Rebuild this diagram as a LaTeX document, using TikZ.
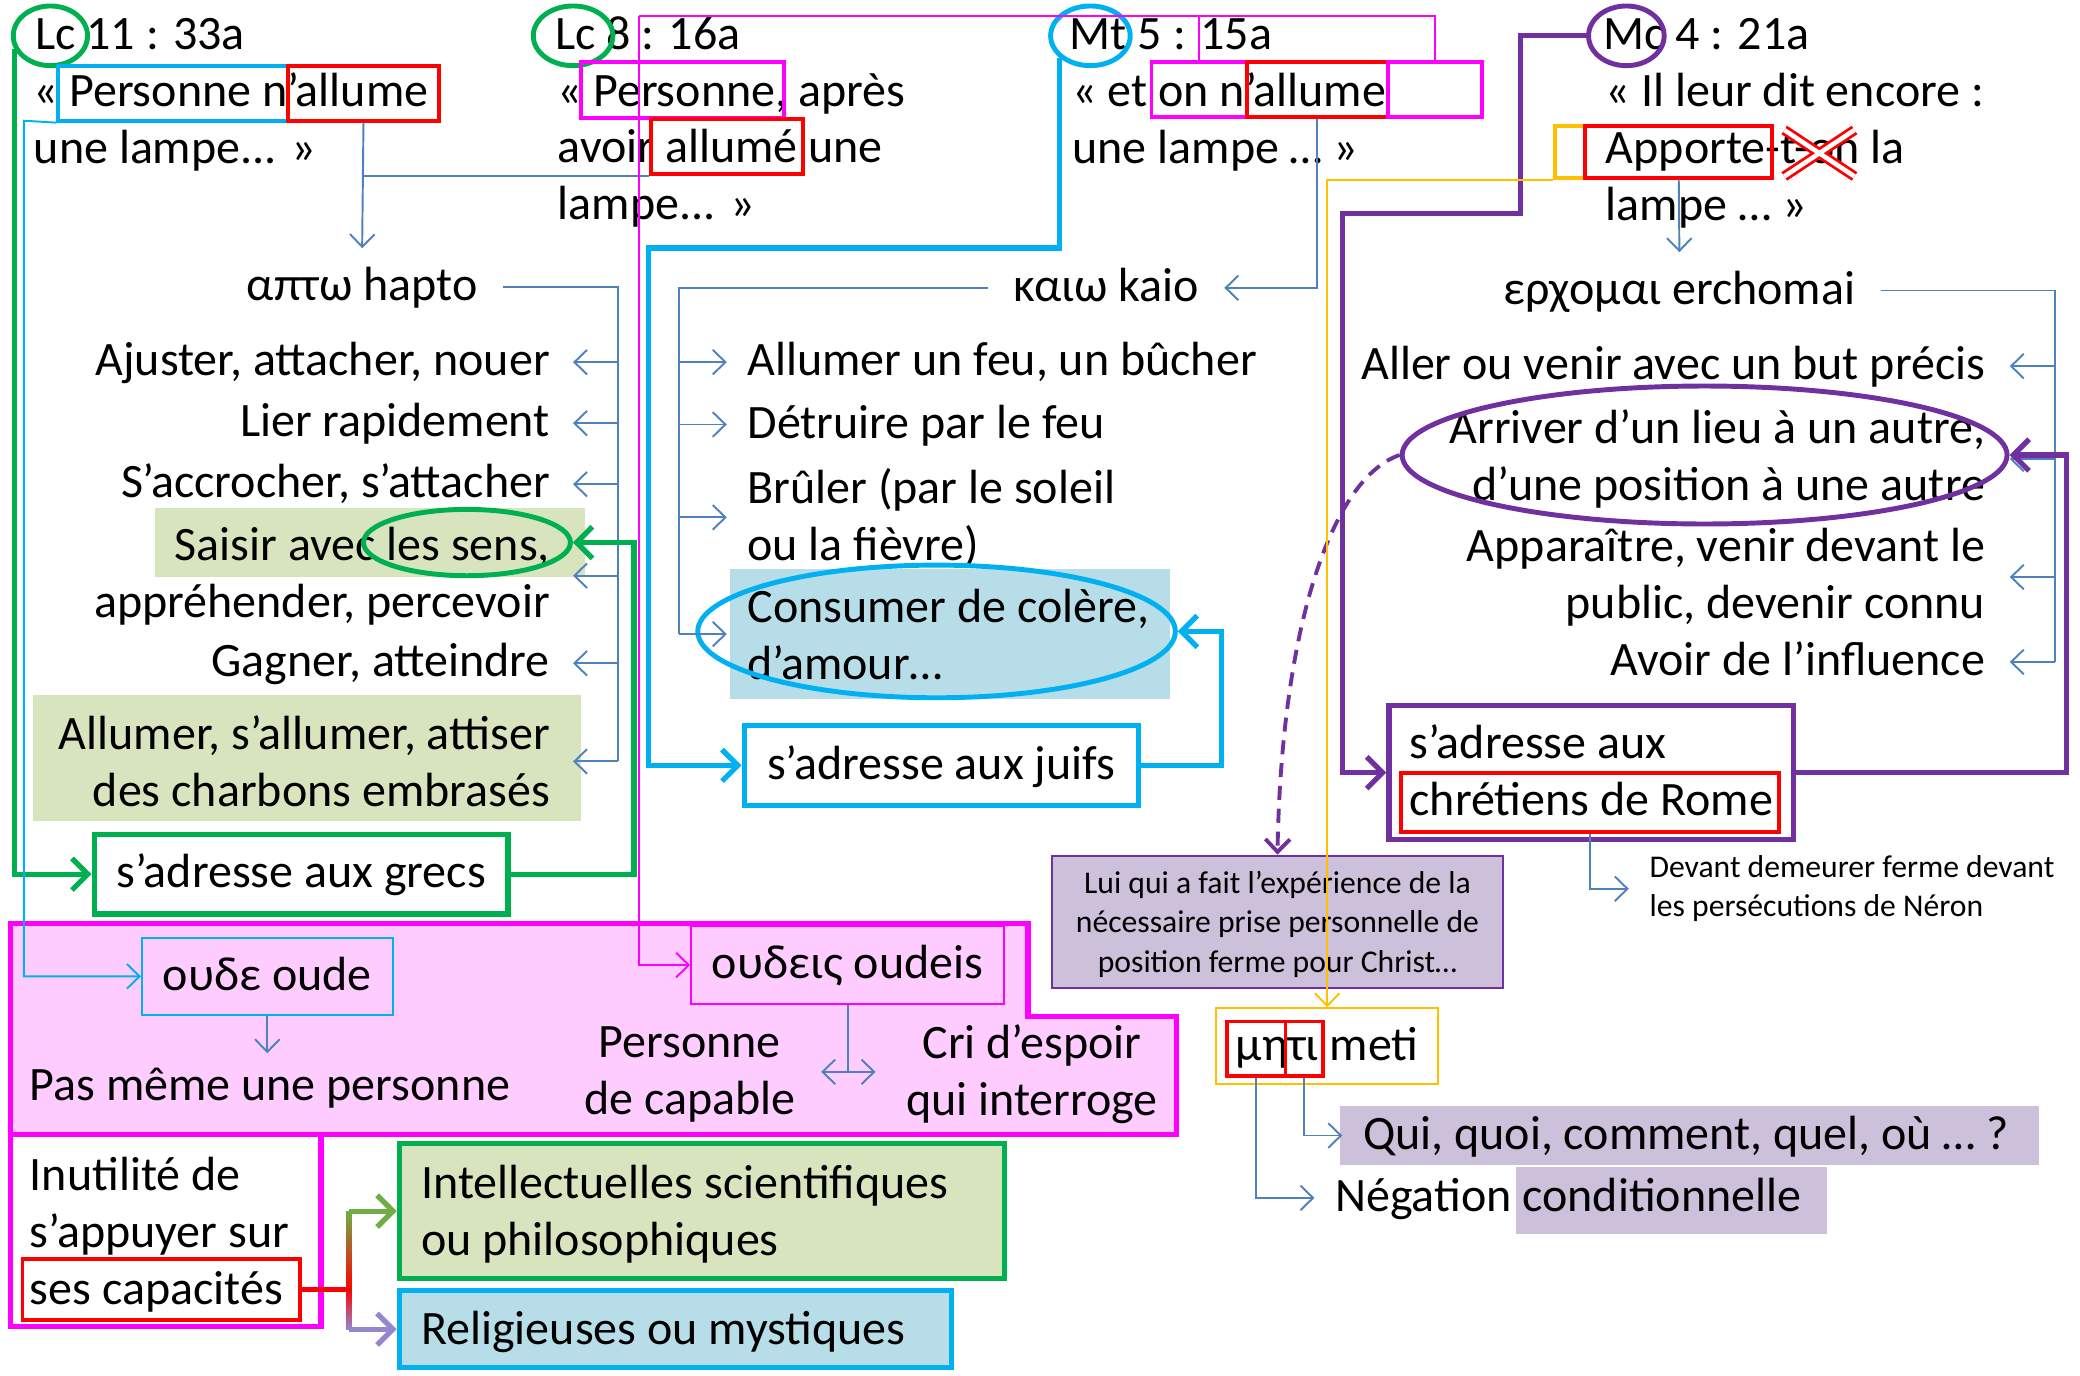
\documentclass[tikz,border=0pt]{standalone}
\usepackage{fontspec}
\setmainfont{Carlito}
\usetikzlibrary{positioning,calc,arrows.meta,shapes.geometric,fit}
\definecolor{grn}{RGB}{0,176,80}
\definecolor{cyn}{RGB}{0,176,240}
\definecolor{mag}{RGB}{255,0,255}
\definecolor{prp}{RGB}{112,48,160}
\definecolor{ylw}{RGB}{255,192,0}
\definecolor{lnBlue}{RGB}{79,129,189}
\definecolor{pinkFill}{RGB}{255,204,255}
\definecolor{greenFill}{RGB}{215,228,189}
\definecolor{blueFill}{RGB}{183,222,232}
\definecolor{purpleFill}{RGB}{204,192,218}
\definecolor{gradGreen}{RGB}{112,173,71}
\definecolor{gradPurple}{RGB}{150,135,205}
\newcommand{\upx}{0.013265cm}
\newcommand{\mainsize}{\fontsize{13.65pt}{16.2pt}\selectfont}
\newcommand{\smallsize}{\fontsize{9pt}{11.2pt}\selectfont}

\begin{document}
\begin{tikzpicture}[x=\upx, y=-\upx,
    txt/.style={inner sep=0, font=\mainsize},
    ln/.style={txt, text height=0.86em, text depth=0.08em},
    greek/.style={ln, inner xsep=7pt, inner ysep=6pt},
    hl/.style={draw, line width=1.1pt, inner sep=0},
    frame/.style={draw, line width=1.5pt, inner sep=0},
    ring/.style={draw, ellipse, inner sep=0, line width=1.4pt},
    fatln/.style={line width=1.5pt},
    thinln/.style={line width=0.55pt},
    tip/.style={-{Straight Barb[length=3.6pt,width=7pt]}},
    fattip/.style={-{Straight Barb[length=4.5pt,width=9pt]}},
    blueln/.style={draw=lnBlue, thinln},
    bluearr/.style={blueln, tip},
]
\useasboundingbox (0,0) rectangle (1568,1037);

% shaded backgrounds
\fill[greenFill] (117,383) rectangle (441,435);
\fill[greenFill] (25,524) rectangle (438,619);
\fill[blueFill] (550,429) rectangle (882,527);
\fill[purpleFill] (1010,834) rectangle (1537,878);
\fill[purpleFill] (1143,880) rectangle (1377,930);
\draw[mag, line width=1.5pt, fill=pinkFill] (8,696) -- (775,696) -- (775,766) -- (887,766) -- (887,855) -- (8,855) -- cycle;

% the four verses
\node[ln, anchor=west] (ref1) at (26,27) {Lc 11 : 33a};
\node[ln, anchor=west] (q1a) at (25,70) {« Personne n’allume};
\node[ln, anchor=west] (q1b) at (25,113) {une lampe... »};
\node[ring, draw=grn, minimum width=56*\upx, minimum height=45*\upx] (lc1) at (38,27) {};
\node[hl, draw=cyn, fit={(44,50) (217,91)}] (pers1) {};
\node[hl, draw=red, fit={(217,50) (331,91)}] (allume1) {};

\node[ln, anchor=west] (ref2) at (418,27) {Lc 8 : 16a};
\node[ln, anchor=west] (q2a) at (420,70) {« Personne, après};
\node[ln, anchor=west] (q2b) at (420,112) {avoir allumé une};
\node[ln, anchor=west] (q2c) at (420,155) {lampe... »};
\node[ring, draw=grn, minimum width=60*\upx, minimum height=45*\upx] (lc2) at (432,27) {};
\node[hl, draw=mag, fit={(438,47) (591,89)}] (pers2) {};
\node[hl, draw=red, fit={(491,90) (605,131)}] (allume2) {};

\node[ln, anchor=west] (ref3) at (806,27) {Mt 5 : 15a};
\node[ln, anchor=west] (q3a) at (808,70) {« et on n’allume};
\node[ln, anchor=west] (q3b) at (808,113) {une lampe … »};
\node[ring, draw=cyn, minimum width=60*\upx, minimum height=45*\upx] (mt) at (822,27) {};
\node[hl, draw=mag, fit={(868,47) (940,88)}] (onn) {};
\node[hl, draw=red, fit={(940,47) (1046,88)}] (allume3) {};
\node[hl, draw=mag, fit={(1046,47) (1117,88)}] (vide3) {};

\node[ln, anchor=west] (ref4) at (1208,27) {Mc 4 : 21a};
\node[ln, anchor=west] (q4a) at (1210,70) {« Il leur dit encore :};
\node[ln, anchor=west] (q4b) at (1210,113) {Apporte-t-on la};
\node[ln, anchor=west] (q4c) at (1210,156) {lampe … »};
\node[ring, draw=prp, minimum width=57*\upx, minimum height=45*\upx] (mc) at (1226,27) {};
\node[hl, draw=ylw, fit={(1172,95) (1195,134)}] (vide4) {};
\node[hl, draw=red, fit={(1195,95) (1336,134)}] (apporte) {};
\draw[red, line width=0.8pt, double=white, double distance=1.3pt] (1345,98) -- (1398,133) (1345,133) -- (1398,98);

% greek words and meanings
\node[greek] (hapto) at (273,216) {απτω hapto};
\node[greek] (kaio) at (834,217) {καιω kaio};
\node[greek] (erch) at (1266,219) {ερχομαι erchomai};

\node[ln, anchor=east] (h1) at (415,273) {Ajuster, attacher, nouer};
\node[ln, anchor=east] (h2) at (415,319) {Lier rapidement};
\node[ln, anchor=east] (h3) at (415,365) {S’accrocher, s’attacher};
\node[txt, anchor=east, align=right] (h4) at (415,434) {Saisir avec les sens,\\appréhender, percevoir};
\node[ln, anchor=east] (h5) at (415,500) {Gagner, atteindre};
\node[txt, anchor=east, align=right] (h6) at (415,574) {Allumer, s’allumer, attiser\\des charbons embrasés};
\node[ring, draw=grn, minimum width=156*\upx, minimum height=50*\upx] (sens) at (352,409) {};

\node[ln, anchor=west] (k1) at (563,273) {Allumer un feu, un bûcher};
\node[ln, anchor=west] (k2) at (563,320) {Détruire par le feu};
\node[txt, anchor=west, align=left] (k3) at (563,390) {Brûler (par le soleil\\ou la fièvre)};
\node[txt, anchor=west, align=left] (k4) at (563,478) {Consumer de colère,\\d’amour…};
\node[ring, draw=cyn, minimum width=360*\upx, minimum height=100*\upx] (colere) at (706,476) {};

\node[ln, anchor=east] (e1) at (1497,276) {Aller ou venir avec un but précis};
\node[txt, anchor=east, align=right] (e2) at (1497,346) {Arriver d’un lieu à un autre,\\d’une position à une autre};
\node[txt, anchor=east, align=right] (e3) at (1497,435) {Apparaître, venir devant le\\public, devenir connu};
\node[ln, anchor=east] (e4) at (1497,499) {Avoir de l’influence};
\node[ring, draw=prp, minimum width=456*\upx, minimum height=104*\upx] (arriver) at (1285,343) {};

% audiences
\node[frame, draw=grn, fit={(71,629) (383,689)}] (grecs) {};
\node[ln] (grecstxt) at (grecs.center) {s’adresse aux grecs};
\node[frame, draw=cyn, fit={(561,547) (858,607)}] (juifs) {};
\node[ln] (juifstxt) at (juifs.center) {s’adresse aux juifs};
\node[frame, draw=prp, fit={(1047,532) (1352,633)}] (rome) {};
\node[txt, align=left] (rometxt) at ([yshift=0.6pt]rome.center) {s’adresse aux\\chrétiens de Rome};
\node[hl, draw=red, fit={(1056,583) (1341,627)}] (chretiens) {};
\node[txt, font=\smallsize, anchor=west, align=left] (neron) at (1243,670) {Devant demeurer ferme devant\\les persécutions de Néron};
\node[draw=prp, thinln, fill=purpleFill, inner sep=0, fit={(793,645) (1133,745)}] (lui) {};
\node[txt, font=\smallsize, align=center] (luitxt) at ([yshift=-0.6pt]lui.center) {Lui qui a fait l’expérience de la\\nécessaire prise personnelle de\\position ferme pour Christ…};

% meti
\node[draw=ylw, thinln, inner sep=0, fit={(917,760) (1084,817)}] (meti) {};
\node[ln, anchor=west] (metitxt) at (931,789) {μητι meti};
\node[hl, draw=red, fit={(925,770) (969,811)}] (me) {};
\node[hl, draw=red, fit={(969,770) (997,811)}] (ti) {};
\node[ln, anchor=west] (qui) at (1027,856) {Qui, quoi, comment, quel, où … ?};
\node[ln, anchor=west] (negation) at (1006,903) {Négation conditionnelle};

% oude / oudeis
\node[draw=cyn, thinln, inner sep=0, fit={(107,707) (296,765)}] (oude) {};
\node[ln] (oudetxt) at (oude.center) {ουδε oude};
\node[ln, anchor=west] (pasmeme) at (22,819) {Pas même une personne};
\node[draw=mag, thinln, inner sep=0, fit={(521,698) (757,757)}] (oudeis) {};
\node[ln] (oudeistxt) at (oudeis.center) {ουδεις oudeis};
\node[txt, align=center] (capable) at (520,810) {Personne\\de capable};
\node[txt, align=center] (espoir) at (778,810) {Cri d’espoir\\qui interroge};

% capacites
\node[frame, draw=mag, fit={(8,855) (242,1000)}] (inutile) {};
\node[txt, anchor=west, align=left] (inuttxt) at (22,931) {Inutilité de\\s’appuyer sur\\ses capacités};
\node[hl, draw=red, fit={(17,949) (226,995)}] (caps) {};
\node[frame, draw=grn, fill=greenFill, fit={(301,862) (757,964)}] (intel) {};
\node[txt, anchor=west, align=left] (inteltxt) at (317,915) {Intellectuelles scientifiques\\ou philosophiques};
\node[frame, draw=cyn, fill=blueFill, fit={(301,973) (717,1031)}] (relig) {};
\node[ln, anchor=west] (religtxt) at (317,1003) {Religieuses ou mystiques};

% blue thin connectors
\coordinate (spineH) at (466,215);
\coordinate (spineK) at (512,217);
\coordinate (spineE) at (1549,219);
\draw[bluearr] (allume1.south) -- (hapto.north);
\draw[blueln] (allume2.south west) -- (allume1.south |- allume2.south west);
\draw[blueln] (hapto.east) -| (spineH |- h6.east);
\foreach \n in {h1,h2,h3,h4,h5,h6}
  \draw[bluearr] (spineH |- \n.east) -- ([xshift=6.4pt]\n.east);
\draw[bluearr] (allume3.south) |- (kaio.east);
\draw[blueln] (kaio.west) -| (spineK |- k4.west);
\foreach \n in {k1,k2,k3,k4}
  \draw[bluearr] (spineK |- \n.west) -- ([xshift=-5.7pt]\n.west);
\draw[bluearr] (apporte.south) -- (erch.north);
\draw[blueln] (erch.east) -| (spineE |- e4.east);
\foreach \n in {e1,e2,e3,e4}
  \draw[bluearr] (spineE |- \n.east) -- ([xshift=6.8pt]\n.east);
\draw[bluearr] (chretiens.south) |- ([xshift=-5.7pt]neron.west);
\draw[bluearr] (oude.south) -- ($(oude.south |- pasmeme.north)+(0,-12)$);
\coordinate (dbl) at (639,808);
\draw[blueln] (oudeis.south) -- (dbl);
\draw[blueln, {Straight Barb[length=3.6pt,width=7pt]}-{Straight Barb[length=3.6pt,width=7pt]}] ($(dbl)+(-20,0)$) -- ($(dbl)+(21,0)$);
\draw[bluearr] (me.south) |- ([xshift=-5.7pt]negation.west);
\draw[bluearr] (ti.south) |- ([xshift=-5.7pt]qui.west);

% coloured connectors
\coordinate (grnR) at (478,0);
\coordinate (cynL) at (489,187);
\coordinate (cynR) at (921,0);
\coordinate (prpL) at (1012,161);
\coordinate (prpR) at (1558,0);
\coordinate (magtop) at (482,12);
\draw[grn, fatln, fattip] (lc1.200) |- (grecs.west);
\draw[grn, fatln, fattip] (grecs.east) -| (grnR |- sens.east) -- (sens.east);
\draw[cyn, thinln, tip] (pers1.south west) -- (18,91) |- (oude.west);
\draw[mag, thinln] (vide3.north) |- (magtop);
\draw[mag, thinln] (onn.north) -- (onn.north |- magtop);
\draw[mag, thinln, tip] (magtop) |- (oudeis.west);
\draw[cyn, fatln, fattip] (mt.215) |- (cynL) |- (juifs.west);
\draw[cyn, fatln, fattip] (juifs.east) -| (cynR |- colere.east) -- (colere.east);
\draw[prp, fatln, fattip] (mc.west) -- (1146,27) |- (prpL) |- (rome.west);
\draw[prp, fatln, fattip] (rome.east) -| (prpR |- arriver.east) -- (arriver.east);
\draw[prp, line width=1.1pt, dash pattern=on 4pt off 2.5pt, tip] (arriver.west) .. controls (1005,360) and (966,470) .. (lui.north);
\draw[ylw, thinln, tip] (vide4.south west) -| (meti.north);

% fork from capacites
\coordinate (fork) at (263,972);
\draw[red, fatln] (caps.east) -- (fork);
\shade[top color=gradGreen, bottom color=red] ($(fork |- intel.west)+(-2,0)$) rectangle ($(fork)+(2,0)$);
\shade[top color=red, bottom color=gradPurple] ($(fork)+(-2,0)$) rectangle ($(fork |- relig.west)+(2,0)$);
\draw[gradGreen, fatln, fattip] (fork |- intel.west) -- (intel.west);
\draw[gradPurple, fatln, fattip] (fork |- relig.west) -- (relig.west);
\end{tikzpicture}
\end{document}
